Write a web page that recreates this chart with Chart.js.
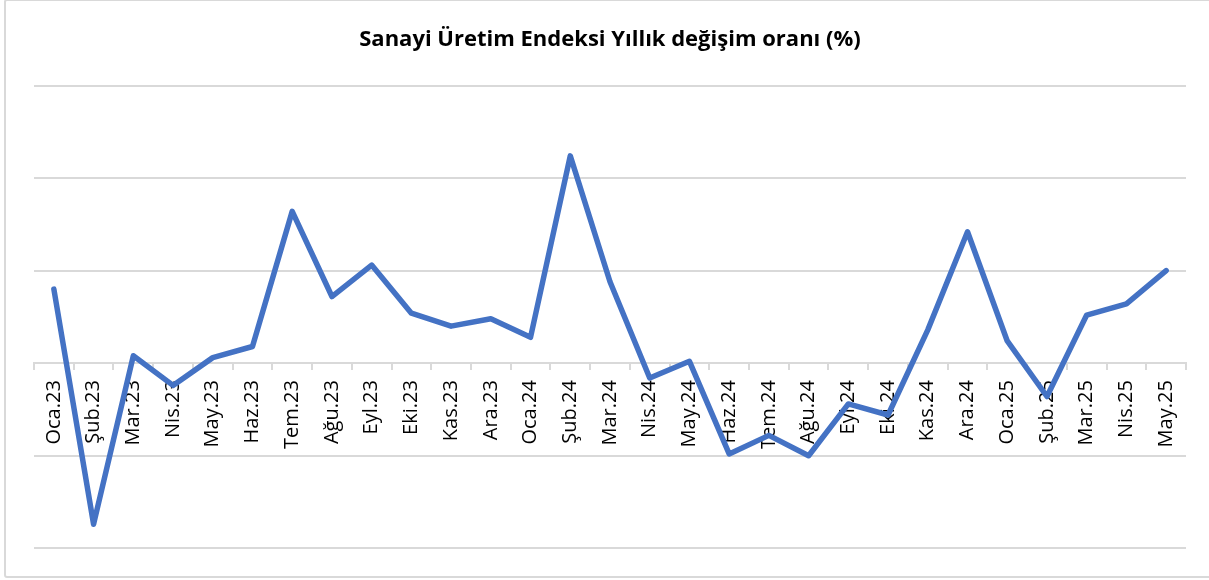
<!DOCTYPE html>
<html>
<head>
<meta charset="utf-8">
<script src="https://cdn.jsdelivr.net/npm/chart.js@4.4.1/dist/chart.umd.min.js"></script>
<style>
  html, body { margin: 0; padding: 0; background: #fff; overflow: hidden; }
  #wrap { position: relative; width: 1209px; height: 580px; }
  #frame { position: absolute; left: 4px; top: -1px; width: 1220px; height: 579px; border: 2px solid #d9d9d9; box-sizing: border-box; border-radius: 3px; pointer-events: none; }
  canvas { position: absolute; left: 0; top: 0; }
</style>
</head>
<body>
<div id="wrap">
  <canvas id="c" width="1209" height="580"></canvas>
  <div id="frame"></div>
</div>
<script>
const titleText = 'Sanayi Üretim Endeksi Yıllık değişim oranı (%)';
const categories = ['Oca.23','Şub.23','Mar.23','Nis.23','May.23','Haz.23','Tem.23','Ağu.23','Eyl.23','Eki.23','Kas.23','Ara.23',
  'Oca.24','Şub.24','Mar.24','Nis.24','May.24','Haz.24','Tem.24','Ağu.24','Eyl.24','Eki.24','Kas.24','Ara.24',
  'Oca.25','Şub.25','Mar.25','Nis.25','May.25'];
const values = [4.0, -8.7, 0.4, -1.2, 0.3, 0.9, 8.2, 3.6, 5.3, 2.7, 2.0, 2.4,
  1.4, 11.2, 4.4, -0.8, 0.1, -4.9, -3.9, -5.0, -2.2, -2.8, 1.8, 7.1,
  1.2, -1.8, 2.6, 3.2, 5.0];
const yMin = -10, yMax = 15, yStep = 5;

new Chart(document.getElementById('c'), {
  type: 'line',
  data: {
    labels: categories,
    datasets: [{
      data: values,
      borderColor: '#4472C4',
      borderWidth: 5.5,
      borderCapStyle: 'round',
      borderJoinStyle: 'round',
      pointRadius: 0,
      pointHoverRadius: 0,
      tension: 0,
      fill: false
    }]
  },
  options: {
    responsive: false,
    animation: false,
    layout: { padding: { left: 34, right: 23, top: 0, bottom: 31.7 } },
    plugins: {
      legend: { display: false },
      tooltip: { enabled: false },
      title: {
        display: true,
        text: titleText,
        color: '#000',
        font: { family: 'Open Sans', size: 22, weight: 'bold', lineHeight: 1.2 },
        padding: { top: 26.8, bottom: 32.3 }
      }
    },
    scales: {
      x: {
        type: 'category',
        position: { y: 0 },
        offset: true,
        grid: {
          drawOnChartArea: false,
          drawTicks: true,
          tickLength: 6,
          offset: true,
          color: '#d9d9d9',
          lineWidth: 2
        },
        border: { display: true, color: '#d9d9d9', width: 2 },
        ticks: {
          autoSkip: false,
          maxRotation: 90,
          minRotation: 90,
          padding: 11,
          color: '#000',
          font: { family: 'Open Sans', size: 20 }
        }
      },
      y: {
        min: yMin,
        max: yMax,
        ticks: { display: false, stepSize: yStep },
        grid: { color: '#d9d9d9', lineWidth: 2, drawTicks: false },
        border: { display: false }
      }
    }
  }
});
</script>
</body>
</html>
